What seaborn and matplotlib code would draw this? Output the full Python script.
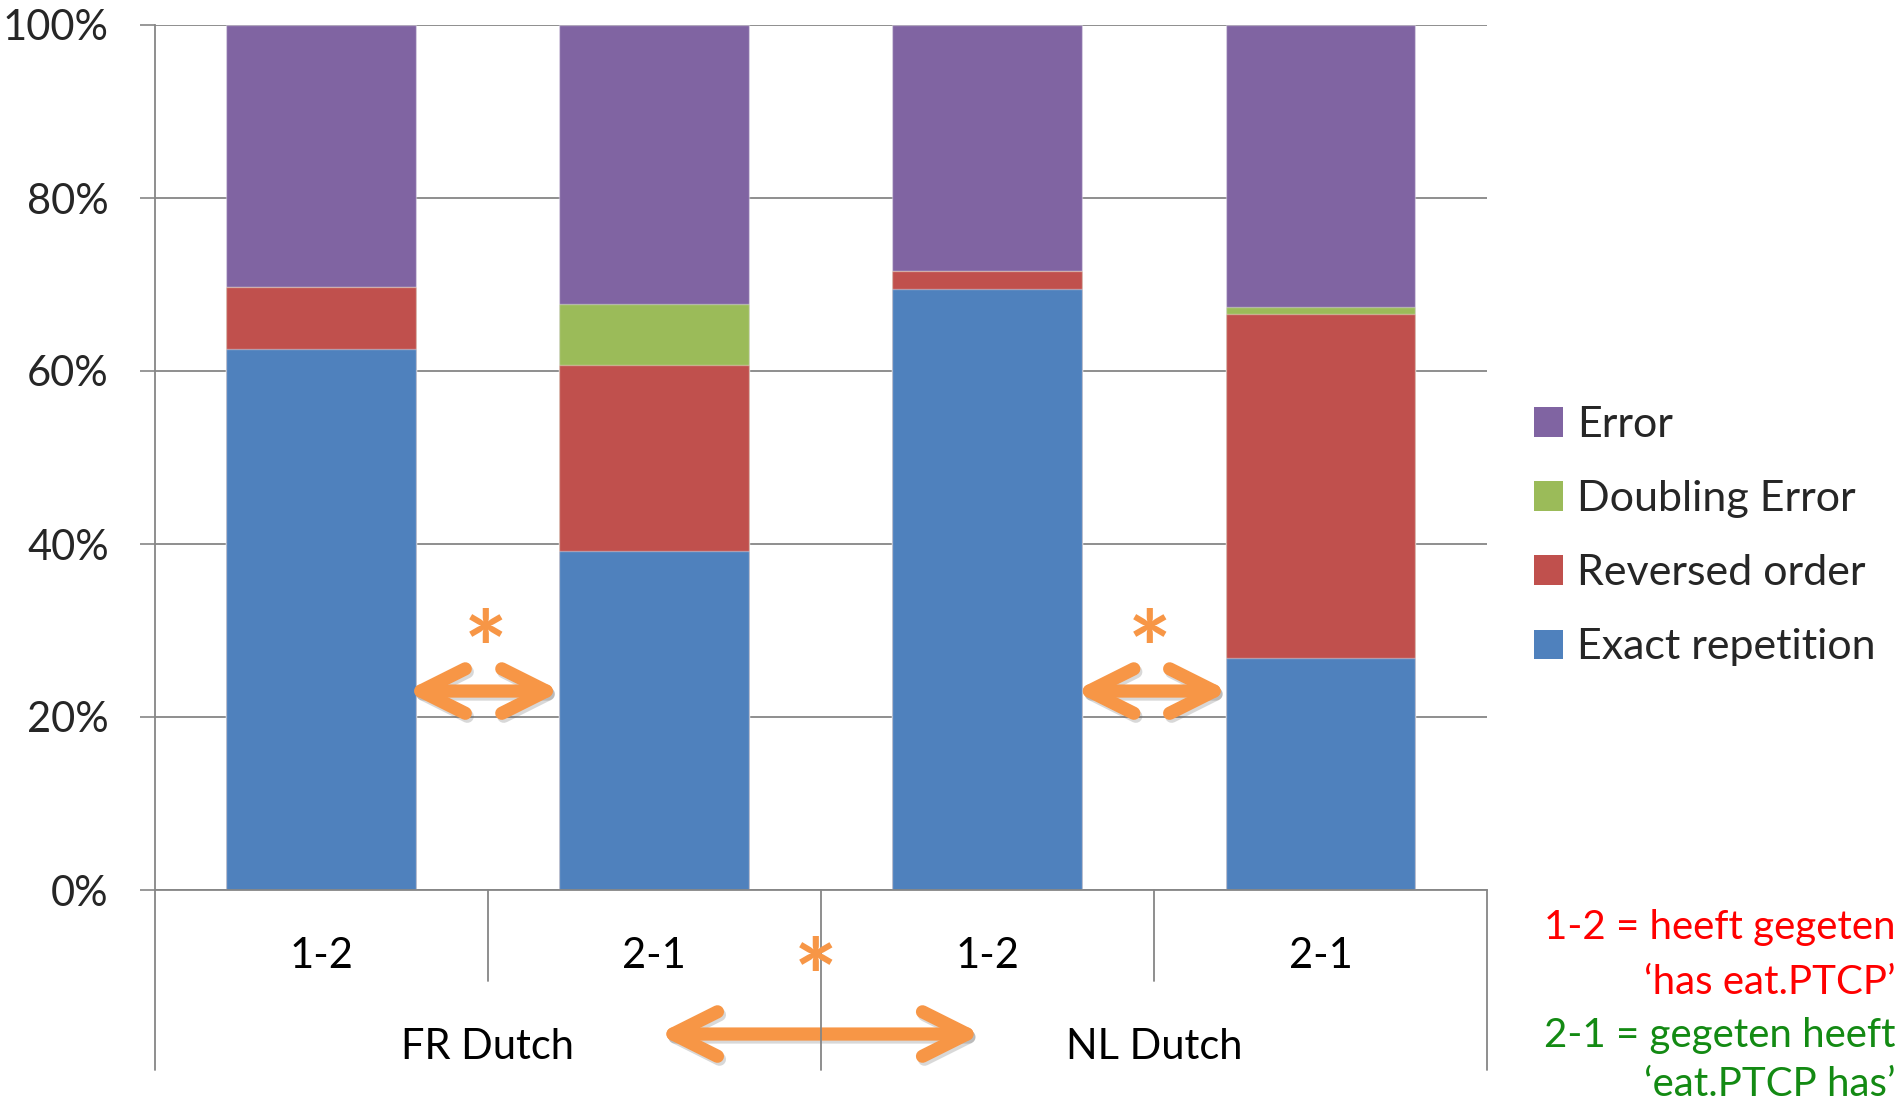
import matplotlib
matplotlib.use("Agg")
import matplotlib.pyplot as plt
from matplotlib.patches import Patch
from matplotlib.transforms import offset_copy
import seaborn as sns
import pandas as pd

# ---- data ----
groups = ["FR Dutch", "FR Dutch", "NL Dutch", "NL Dutch"]
orders = ["1-2", "2-1", "1-2", "2-1"]
exact_repetition = [62.5, 39.2, 69.5, 26.8]
reversed_order = [7.2, 21.5, 2.1, 39.75]
doubling_error = [0.0, 7.0, 0.0, 0.8]
error = [30.3, 32.3, 28.4, 32.65]
series_names = ["Error", "Doubling Error", "Reversed order", "Exact repetition"]
series_colors = ["#8064A2", "#9BBB59", "#C0504D", "#4F81BD"]
y_ticks = [0, 20, 40, 60, 80, 100]
y_tick_labels = ["0%", "20%", "40%", "60%", "80%", "100%"]
group_labels = ["FR Dutch", "NL Dutch"]
note_lines = ["1-2 = heeft gegeten", "\u2018has eat.PTCP\u2019",
              "2-1 = gegeten heeft", "\u2018eat.PTCP has\u2019"]
note_colors = ["#FF0000", "#FF0000", "#138A13", "#138A13"]

sns.set_style("white")
plt.rcParams["font.family"] = ["Lato", "DejaVu Sans"]

W, H = 1903, 1105
fig = plt.figure(figsize=(W / 100, H / 100), dpi=100)
ax = fig.add_axes([154.6 / W, 1 - 890 / H, (1487 - 154.6) / W, (890 - 25) / H])

df = pd.DataFrame({
    "bar": [f"{g} {o}" for g, o in zip(groups, orders)],
    "exact": exact_repetition,
    "reversed": reversed_order,
    "doubling": doubling_error,
    "error": error,
})
df["c_exact"] = df["exact"]
df["c_reversed"] = df["c_exact"] + df["reversed"]
df["c_doubling"] = df["c_reversed"] + df["doubling"]
df["c_error"] = df["c_doubling"] + df["error"]

order_keys = list(df["bar"])
for col, colr in zip(["c_error", "c_doubling", "c_reversed", "c_exact"], series_colors):
    sns.barplot(data=df, x="bar", y=col, order=order_keys, color=colr, saturation=1,
                width=0.57, ax=ax, edgecolor=(1, 1, 1, 0.35), linewidth=1.0)

ax.set_xlim(-0.5, 3.5)
ax.set_ylim(0, 100)
ax.set_xlabel("")
ax.set_ylabel("")
ax.set_xticks([])
ax.set_yticks(y_ticks)
ax.set_yticklabels(y_tick_labels, fontsize=30)
ax.tick_params(axis="y", length=11, width=1.2, color="#868686", pad=22, left=True)
ax.yaxis.grid(True, color="#868686", lw=1.3)
ax.set_axisbelow(True)
for s in ["top", "right"]:
    ax.spines[s].set_visible(False)
for s in ["left", "bottom"]:
    ax.spines[s].set_color("#868686")
    ax.spines[s].set_linewidth(1.3)

# category separators below the axis
for xb, depth in [(-0.5, -0.208), (0.5, -0.105), (1.5, -0.208), (2.5, -0.105), (3.5, -0.208)]:
    ax.axvline(xb, ymin=depth, ymax=0, color="#868686", lw=1.3, clip_on=False, zorder=3)

# category labels
for i, o in enumerate(orders):
    ax.text(i, -0.0763, o, transform=ax.get_xaxis_transform(), ha="center", va="center",
            fontsize=30, color="black")
for gi, gl in enumerate(group_labels):
    ax.text(2 * gi + 0.5, -0.181, gl, transform=ax.get_xaxis_transform(), ha="center",
            va="center", fontsize=30, color="black")

# significance arrows
orange = "#F79646"
shadow_tr = offset_copy(ax.transData, fig=fig, x=2, y=-3, units="dots")

def darrow(x0, x1, y):
    for tr, colr, alpha, z in [(shadow_tr, "#666666", 0.25, 1.4), (ax.transData, orange, 1.0, 1.5)]:
        ax.annotate("", xy=(x1, y), xytext=(x0, y), xycoords=tr, textcoords=tr,
                    annotation_clip=False, zorder=z,
                    arrowprops=dict(arrowstyle="<->,head_length=32,head_width=16",
                                    mutation_scale=1, lw=9.5, color=colr, alpha=alpha,
                                    shrinkA=0, shrinkB=0, capstyle="round",
                                    joinstyle="round", clip_on=False, zorder=z))

darrow(0.255, 0.72, 23.0)
darrow(2.262, 2.725, 23.0)
darrow(1.012, 1.983, -16.65)
for xa, ya in [(0.495, 27.0), (2.486, 27.0), (1.483, -10.9)]:
    ax.text(xa, ya, "*", ha="center", va="center", fontsize=74, fontweight="bold",
            color=orange, clip_on=False)

# legend
handles = [Patch(facecolor=c, edgecolor="none") for c in series_colors]
leg = ax.legend(handles, series_names, loc="upper left",
                bbox_to_anchor=(1534 / W, 1 - 406 / H), bbox_transform=fig.transFigure,
                frameon=False, fontsize=31, handlelength=0.68, handleheight=0.68,
                handletextpad=0.33, labelspacing=0.84, borderpad=0, borderaxespad=0)

# notes
note_y = [928, 982, 1035, 1085]
for t, c, yy in zip(note_lines, note_colors, note_y):
    fig.text(1896 / W, 1 - yy / H, t, ha="right", va="center", fontsize=29, color=c)

fig.savefig("out.png", dpi=100)
